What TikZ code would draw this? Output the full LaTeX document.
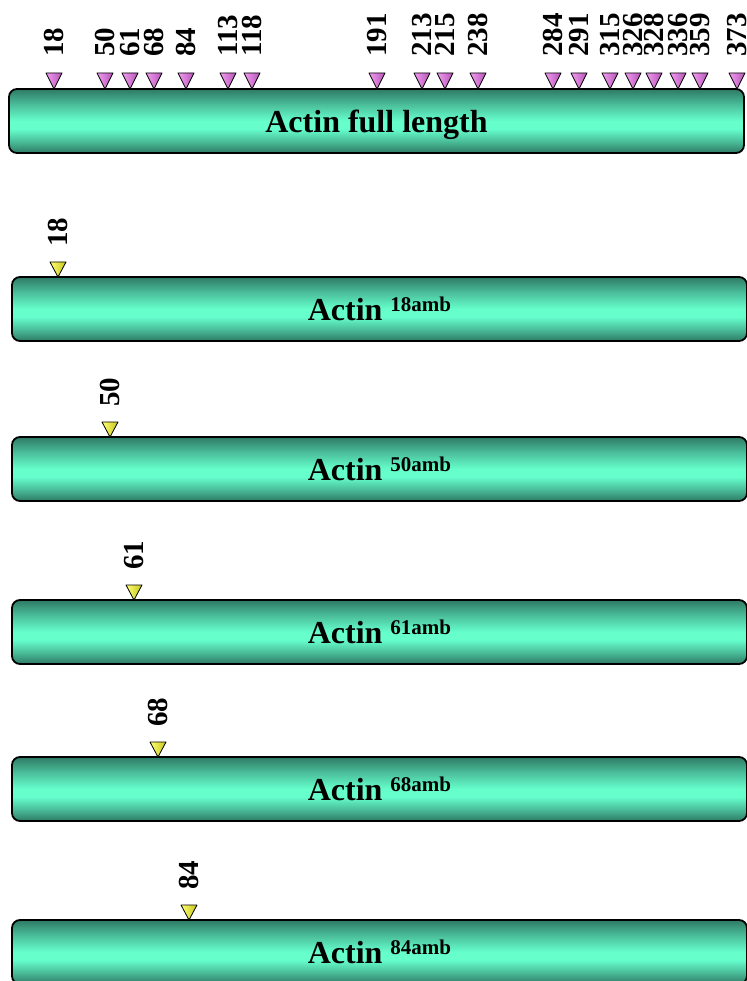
\documentclass[tikz,border=0pt]{standalone}
\usepackage{fontspec}
\setmainfont{Liberation Serif}
\usetikzlibrary{positioning}
\definecolor{acink}{HTML}{000000}
\definecolor{acdark}{HTML}{2E7A64}
\definecolor{aclight}{HTML}{66FFCC}
\colorlet{acmid}{acdark!45!aclight}
\definecolor{acviolet}{HTML}{F29CF2}
\definecolor{acvioletdk}{HTML}{B455B4}
\definecolor{acyellow}{HTML}{FFFF70}
\definecolor{acyellowdk}{HTML}{C4C41E}
\pgfdeclareverticalshading{actintube}{100bp}{color(0bp)=(acdark); color(25bp)=(acdark);
  color(35bp)=(acmid); color(44bp)=(aclight); color(50bp)=(aclight);
  color(62bp)=(acmid); color(75bp)=(acdark); color(100bp)=(acdark)}
\tikzset{
  ac bar/.style={draw=acink, line width=1.8pt, rounded corners=8pt, shading=actintube,
    minimum width=735pt, minimum height=64pt, inner sep=0pt,
    text height=23pt, text depth=0pt, font=\fontsize{32}{32}\selectfont\bfseries},
  ac site/.style={draw=acink, line width=0.8pt, line join=round},
  ac full site/.style={ac site, left color=acviolet, right color=acvioletdk},
  ac amb site/.style={ac site, left color=acyellow, right color=acyellowdk},
  ac num/.style={font=\fontsize{29}{29}\selectfont\bfseries, text=acink,
    rotate=90, anchor=west, inner sep=0pt}
}
\newcommand{\ambsup}[1]{\raisebox{9pt}{\fontsize{21}{21}\selectfont #1amb}}

\begin{document}
\begin{tikzpicture}[x=1pt, y=-1pt]
  \useasboundingbox (0,0) rectangle (746,981);
  % full length actin with all sites
  \node[ac bar] (full) at (376.5,121) {Actin full length};
  \foreach \p/\x in {18/54, 50/105, 61/130, 68/154, 84/186, 113/228, 118/252,
      191/377, 213/422, 215/445, 238/478, 284/553, 291/579, 315/610, 326/633,
      328/654, 336/678, 359/700, 373/737} {
    \coordinate (f\p) at (\x,89);
    \draw[ac full site] (f\p) -- ++(-8,-16) -- ++(16,0) -- cycle;
    \node[ac num] (fn\p) at (\x,57) {\p};
  }
  % single amber constructs
  \node[ac bar] (amb18) at (379.5,309) {Actin \ambsup{18}};
  \node[ac bar] (amb50) at (379.5,469) {Actin \ambsup{50}};
  \node[ac bar] (amb61) at (379.5,632) {Actin \ambsup{61}};
  \node[ac bar] (amb68) at (379.5,789) {Actin \ambsup{68}};
  \node[ac bar] (amb84) at (379.5,952) {Actin \ambsup{84}};
  \foreach \p/\x/\y in {18/58/277, 50/110/437, 61/134/600, 68/158/757, 84/189/920} {
    \coordinate (a\p) at (\x,\y);
    \draw[ac amb site] (a\p) -- ++(-8,-15) -- ++(16,0) -- cycle;
    \node[ac num] (an\p) at (\x,\y-30) {\p};
  }
\end{tikzpicture}
\end{document}
